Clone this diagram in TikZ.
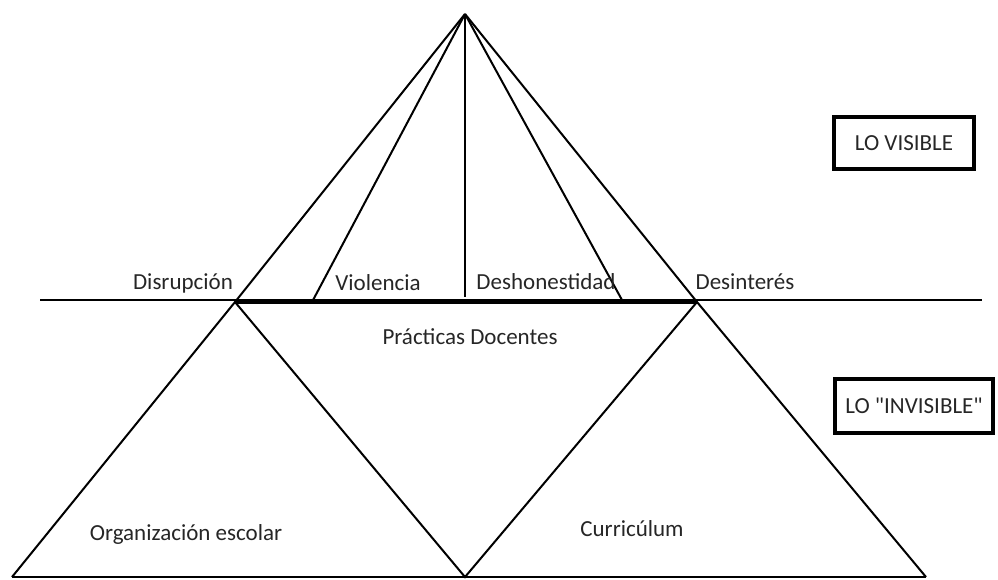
\documentclass[tikz,border=0pt]{standalone}
\usepackage{fontspec}
\setmainfont{Carlito}
\begin{document}
\begin{tikzpicture}[x=1pt,y=-1pt,line width=2pt,
  lbl/.style={font=\fontsize{23}{27}\selectfont,text=black!85,anchor=base,inner sep=0pt},
  levelbox/.style={draw,line width=3.5pt,font=\fontsize{23}{27}\selectfont,text=black!85}]
\useasboundingbox (0,0) rectangle (998,579);
% vertices
\coordinate (apex) at (465,14);
\coordinate (topL) at (235,302);
\coordinate (topR) at (697,302);
\coordinate (vioB) at (312,302);
\coordinate (midB) at (465,297);
\coordinate (desB) at (622,300);
\coordinate (baseL) at (12,577);
\coordinate (baseM) at (465,577);
\coordinate (baseR) at (926,577);
\coordinate (lineL) at (40,300);
\coordinate (lineR) at (982,300);

% dividing line
\draw (lineL) -- (lineR);
\draw[line width=3pt] (topL) -- (topR);

% upper pyramid
\foreach \pt in {topL,vioB,midB,desB,topR}
  \draw (apex) -- (\pt);

% lower triangles
\draw (baseL) -- (topL) -- (baseM) -- (topR) -- (baseR);
\draw (baseL) -- (baseR);

% labels
\node[lbl] (disr) at (183,289) {Disrupción};
\node[lbl] (viol) at (378,290) {Violencia};
\node[lbl] (desh) at (546,289) {Deshonestidad};
\node[lbl] (desi) at (745,289) {Desinterés};
\node[lbl] (prac) at (470,344) {Prácticas Docentes};
\node[lbl] (orga) at (186,540) {Organización escolar};
\node[lbl] (curr) at (632,536) {Curricúlum};

\node[levelbox,minimum width=140pt,minimum height=52pt] (vis) at (904,143) {LO VISIBLE};
\node[levelbox,minimum width=158pt,minimum height=54pt] (invis) at (914,406) {LO \textquotedbl INVISIBLE\textquotedbl};
\end{tikzpicture}
\end{document}
